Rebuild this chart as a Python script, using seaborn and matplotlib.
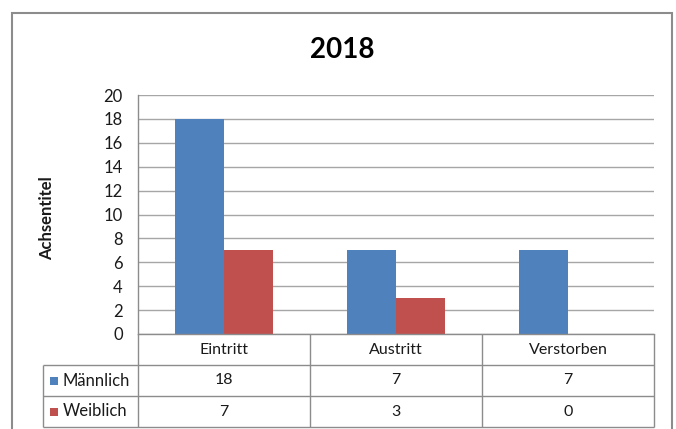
import pandas as pd
import matplotlib.pyplot as plt
import seaborn as sns
from matplotlib.patches import Rectangle

# --- DATA ---
categories = ["Eintritt", "Austritt", "Verstorben"]
series = ["Männlich", "Weiblich"]
maennlich = [18, 7, 7]
weiblich = [7, 3, 0]
y_ticks = list(range(0, 21, 2))
title = "2018"
y_label = "Achsentitel"

# --- STYLE ---
colors = {"Männlich": "#4F81BD", "Weiblich": "#C0504D"}
GRID = "#A6A6A6"
LINE = "#8C8C8C"
TEXT = "#1A1A1A"
FS = 11.5
W, H = 676, 429

sns.set_style("white")
plt.rcParams['font.family'] = ['Lato', 'DejaVu Sans']


def box(l, t, r, b):
    # pixel box -> figure fraction [left, bottom, width, height]
    return [l / W, 1 - b / H, (r - l) / W, (b - t) / H]


def main():
    df = pd.DataFrame({
        "Kategorie": categories * 2,
        "Geschlecht": [series[0]] * 3 + [series[1]] * 3,
        "Wert": maennlich + weiblich,
    })

    fig = plt.figure(figsize=(W / 100, H / 100), dpi=100)

    # outer chart frame (bottom edge cut off like the reference)
    fig.add_artist(Rectangle((12 / W, -0.05), (672 - 12) / W, 1.05 - 13 / H,
                             transform=fig.transFigure, fill=False,
                             edgecolor=LINE, lw=1.5))

    # --- bar area ---
    ax = fig.add_axes(box(138, 95, 654, 334))
    sns.barplot(data=df, x="Kategorie", y="Wert", hue="Geschlecht",
                order=categories, hue_order=series, palette=colors,
                width=0.57, saturation=1, linewidth=0, legend=False, ax=ax)
    ax.set_xlim(-0.5, 2.5)
    ax.set_ylim(0, 20)
    ax.set_yticks(y_ticks)
    ax.set_xticks([])
    ax.set_xlabel("")
    ax.set_ylabel("")
    ax.yaxis.grid(True, color=GRID, lw=1)
    ax.set_axisbelow(True)
    for s in ["top", "right"]:
        ax.spines[s].set_visible(False)
    for s in ["left", "bottom"]:
        ax.spines[s].set_color(LINE)
        ax.spines[s].set_linewidth(1)
    ax.tick_params(axis="y", length=3, color=LINE, labelsize=FS + 0.5,
                   labelcolor=TEXT, pad=8)

    fig.text(47 / W, 1 - 218 / H, y_label, rotation=90, ha="center", va="center",
             fontsize=12, fontweight="bold", color=TEXT)
    fig.text(0.507, 1 - 50 / H, title, ha="center", va="center",
             fontsize=20, fontweight="bold", color="black")

    # --- data table under the bars ---
    tax = fig.add_axes(box(43, 334, 654, 427))
    lab_left = -0.5 - (138 - 43) / ((654 - 138) / 3)
    tax.set_xlim(lab_left, 2.5)
    tax.set_ylim(3, 0)
    tax.axis("off")

    kw = dict(color=LINE, lw=1, clip_on=False)
    tax.hlines([1, 2, 3], lab_left, 2.5, **kw)
    tax.vlines([-0.5, 0.5, 1.5, 2.5], 0, 3, **kw)
    tax.vlines([lab_left], 1, 3, **kw)

    unit_px = (654 - 138) / 3
    for i, cat in enumerate(categories):
        tax.text(i, 0.5, cat, ha="center", va="center", fontsize=FS, color=TEXT)
    for r, (name, vals) in enumerate(zip(series, [maennlich, weiblich])):
        y = 1.5 + r
        tax.scatter([lab_left + 11 / unit_px], [y], marker="s", s=40,
                    color=colors[name], clip_on=False, linewidths=0)
        tax.text(lab_left + 20 / unit_px, y, name, ha="left", va="center",
                 fontsize=FS + 0.5, color=TEXT)
        for i, v in enumerate(vals):
            tax.text(i, y, str(v), ha="center", va="center", fontsize=FS, color=TEXT)

    fig.savefig("out.png", dpi=100)


if __name__ == "__main__":
    main()
